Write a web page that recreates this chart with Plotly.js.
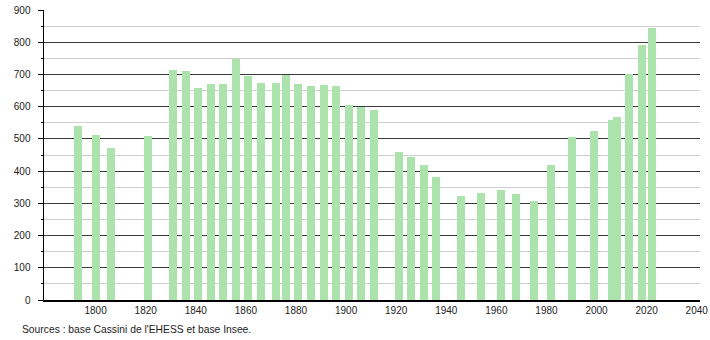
<!DOCTYPE html>
<html>
<head>
<meta charset="utf-8">
<script src="https://cdn.plot.ly/plotly-3.0.1.min.js"></script>
<style>html,body{margin:0;padding:0;background:#fff;}#chart{width:710px;height:340px;}</style>
</head>
<body>
<div id="chart"></div>
<script>
const years = [1793,1800,1806,1821,1831,1836,1841,1846,1851,1856,1861,1866,1872,1876,1881,1886,1891,1896,1901,1906,1911,1921,1926,1931,1936,1946,1954,1962,1968,1975,1982,1990,1999,2006,2008,2013,2018,2022];
const population = [540,512,472,509,714,711,658,670,670,748,695,673,673,698,670,664,667,664,605,599,590,459,444,419,382,323,332,341,329,307,419,505,524,558,568,701,791,844];
const xTickVals = [1800,1820,1840,1860,1880,1900,1920,1940,1960,1980,2000,2020,2040];
const xTickText = ['1800','1820','1840','1860','1880','1900','1920','1940','1960','1980','2000','2020','2040'];
const sourceText = "Sources : base Cassini de l'EHESS et base Insee.";

const trace = {
  type: 'bar',
  x: years,
  y: population,
  width: 3.2,
  marker: {color: 'rgb(172,226,172)', line: {width: 0}},
  hoverinfo: 'x+y'
};

const layout = {
  width: 710, height: 340,
  margin: {l: 44, r: 10, t: 10, b: 40},
  paper_bgcolor: '#fff', plot_bgcolor: '#fff',
  font: {family: 'Liberation Sans, Arial, sans-serif', size: 10, color: '#222'},
  showlegend: false,
  bargap: 0,
  xaxis: {
    range: [1779.4, 2041.3],
    tickmode: 'array', tickvals: xTickVals, ticktext: xTickText,
    showgrid: false, zeroline: false,
    showline: true, linecolor: '#000', linewidth: 1.5,
    ticks: '', fixedrange: true
  },
  yaxis: {
    range: [0, 900],
    tick0: 0, dtick: 100,
    showgrid: true, gridcolor: '#3a3a3a', gridwidth: 1,
    zeroline: false,
    showline: true, linecolor: '#000', linewidth: 1.5,
    ticks: 'outside', ticklen: 5, tickcolor: '#000', tickwidth: 1,
    ticklabelstandoff: 5,
    minor: {dtick: 50, showgrid: true, gridcolor: '#cfcfcf', gridwidth: 1, ticks: 'outside', ticklen: 2, tickcolor: '#000'},
    fixedrange: true
  },
  annotations: [{
    text: sourceText, xref: 'paper', yref: 'paper',
    x: -24/656, y: -0.103, xanchor: 'left', yanchor: 'middle',
    showarrow: false, font: {size: 10.3, color: '#222'}
  }]
};

Plotly.newPlot('chart', [trace], layout, {staticPlot: true, displayModeBar: false});
</script>
</body>
</html>
